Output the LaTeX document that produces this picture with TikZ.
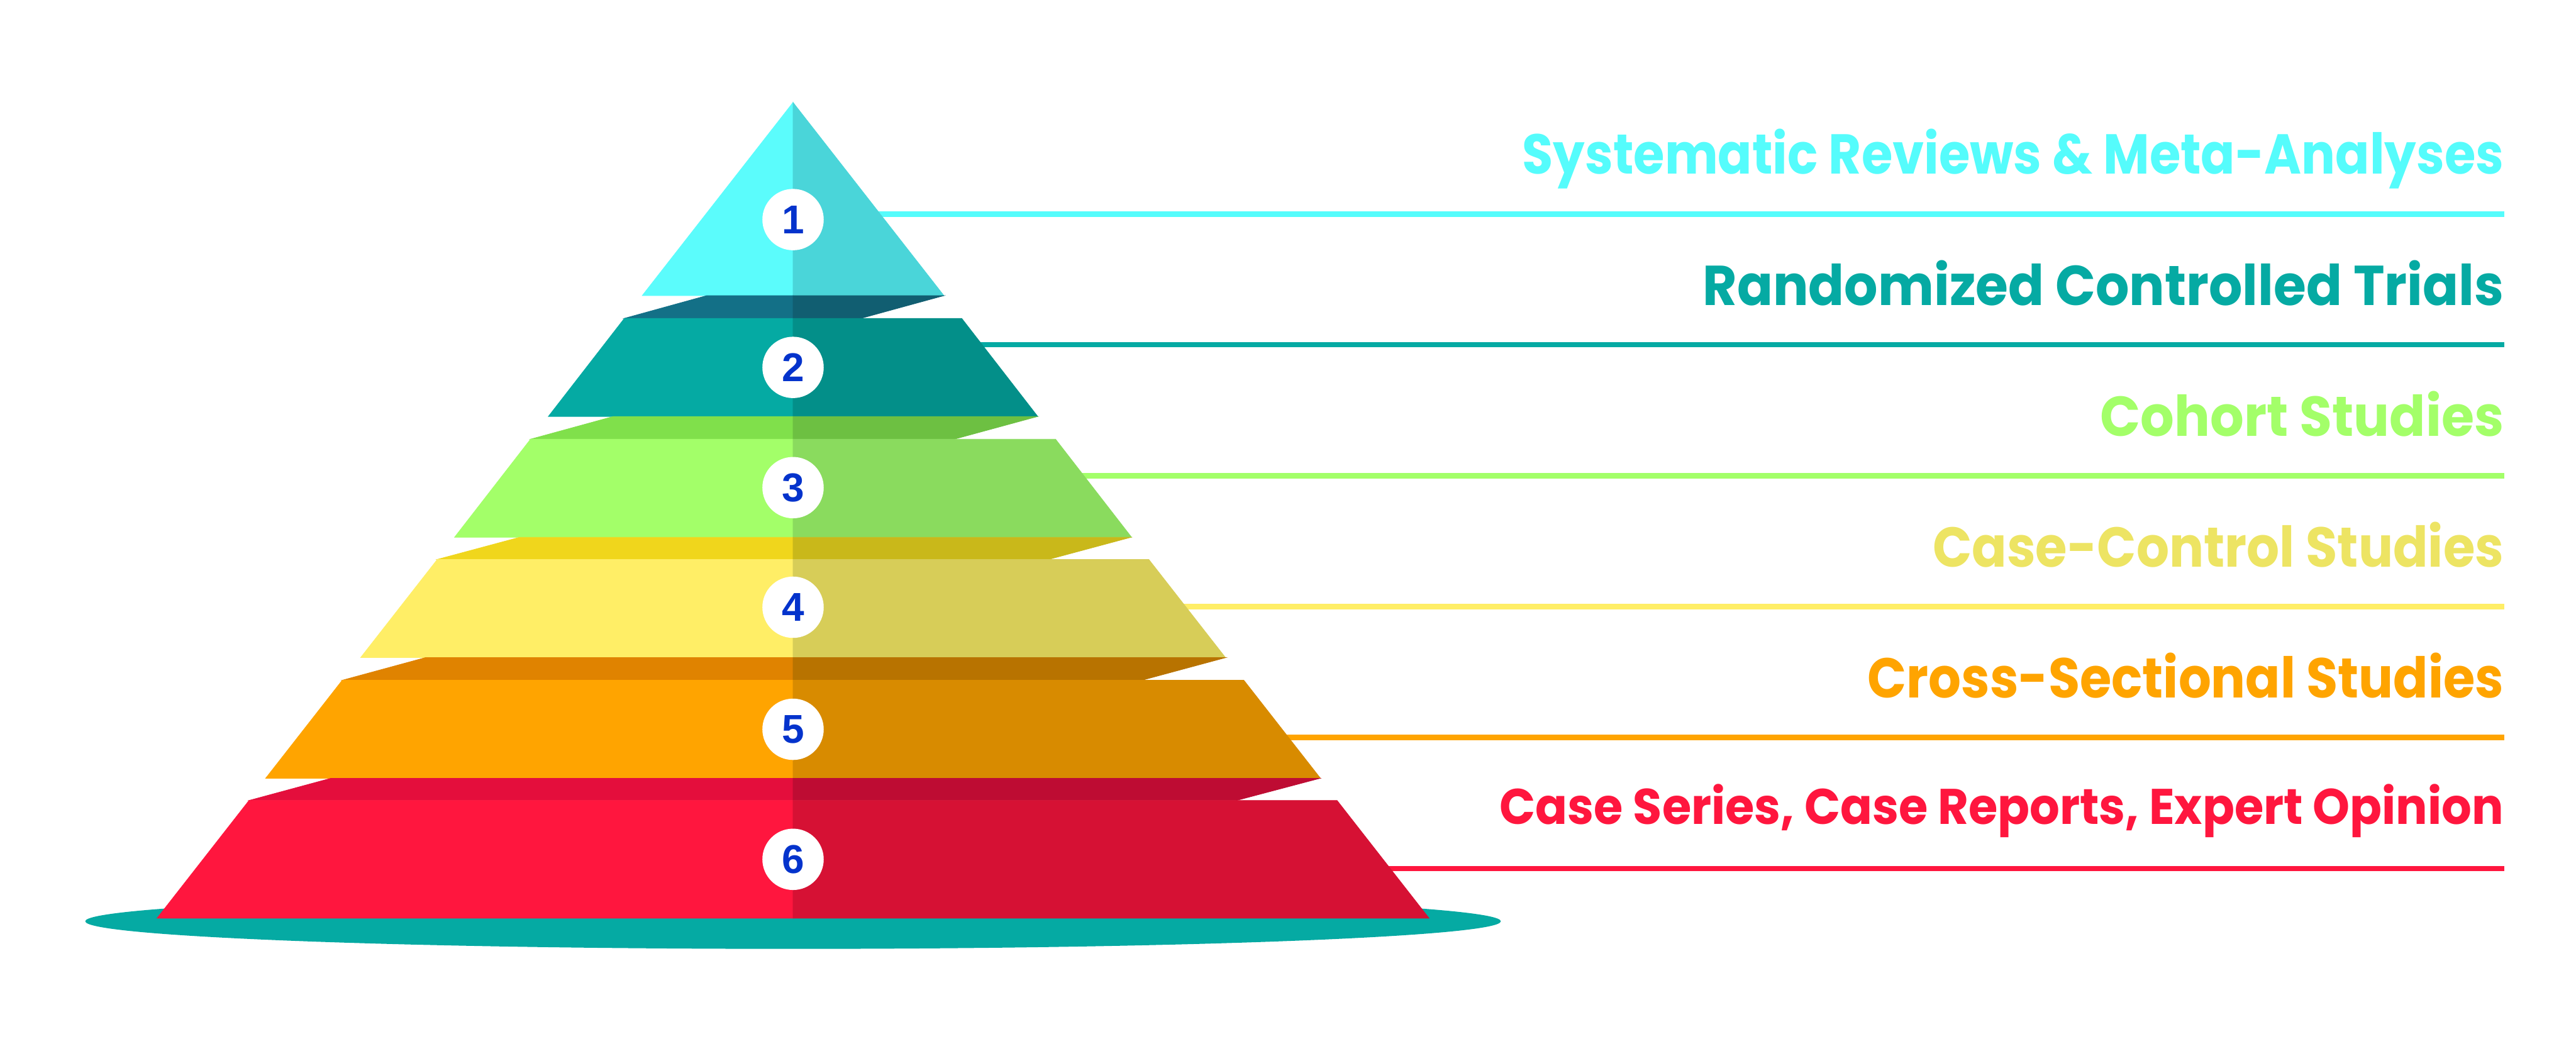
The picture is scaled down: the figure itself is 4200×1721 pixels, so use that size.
\documentclass[tikz,border=0pt]{standalone}
\usepackage{fontspec}
\usepackage{graphicx}
\setmainfont{Poppins}
\newfontfamily\numfont{Liberation Sans}
\definecolor{tAl}{HTML}{5BFCFC}\definecolor{tAr}{HTML}{4AD5D9}
\definecolor{bAl}{HTML}{137087}\definecolor{bAr}{HTML}{115E71}
\definecolor{tBl}{HTML}{05AAA3}\definecolor{tBr}{HTML}{038F89}
\definecolor{bBl}{HTML}{80E04B}\definecolor{bBr}{HTML}{6DC042}
\definecolor{tCl}{HTML}{A3FF69}\definecolor{tCr}{HTML}{8ADB5E}
\definecolor{bCl}{HTML}{F0D61C}\definecolor{bCr}{HTML}{C9B81A}
\definecolor{tDl}{HTML}{FFEE66}\definecolor{tDr}{HTML}{D7CD58}
\definecolor{bDl}{HTML}{E08300}\definecolor{bDr}{HTML}{B87300}
\definecolor{tEl}{HTML}{FFA400}\definecolor{tEr}{HTML}{D88B00}
\definecolor{bEl}{HTML}{E40E3C}\definecolor{bEr}{HTML}{BE0C33}
\definecolor{tFl}{HTML}{FF163E}\definecolor{tFr}{HTML}{D61134}
\definecolor{numblue}{HTML}{0433CC}
\definecolor{txA}{HTML}{55FCFC}\definecolor{txB}{HTML}{05AAA3}
\definecolor{txC}{HTML}{A3FF69}\definecolor{txD}{HTML}{EDE463}
\definecolor{txE}{HTML}{FFA400}\definecolor{txF}{HTML}{FF163E}
\definecolor{lnD}{HTML}{FFEE66}
\newcommand\pyrtier[6]{%
  \fill[#5,draw=#5,line width=0.2pt] ({1293-#3},#1) -- (1293,#1) -- (1293,#2) -- ({1293-#4},#2) -- cycle;
  \fill[#6,draw=#6,line width=0.2pt] (1293,#1) -- ({1293+#3},#1) -- ({1293+#4},#2) -- (1293,#2) -- cycle;}
\newcommand\pyrband[8]{%
  \fill[#7,draw=#7,line width=0.2pt] (#3,#1) -- (1293,#1) -- (1293,#2) -- (#5,#2) -- cycle;
  \fill[#8,draw=#8,line width=0.2pt] (1293,#1) -- (#4,#1) -- (#6,#2) -- (1293,#2) -- cycle;}
\newcommand\fitw[2]{\resizebox{#1}{\height}{#2}}
\begin{document}
\begin{tikzpicture}[x=0.25pt,y=-0.25pt,
  rule/.style={line width=2.25pt},
  numdot/.style={circle,fill=white,minimum size=25pt,inner sep=0pt,text=numblue,
    font=\numfont\bfseries\fontsize{16.4pt}{18pt}\selectfont},
  lvl/.style={anchor=base east,inner sep=0pt,font=\bfseries\fontsize{22.9pt}{26pt}\selectfont},
  lvlsmall/.style={anchor=base east,inner sep=0pt,font=\bfseries\fontsize{20.4pt}{24pt}\selectfont}]
\useasboundingbox (0,0) rectangle (4200,1721);
% base ellipse
\fill[tBl] (1293,1502) ellipse [x radius=1154, y radius=45];
% rules (behind pyramid)
\coordinate (s1) at (1293,349);  \coordinate (e1) at (4083,349);
\coordinate (s2) at (1293,562);  \coordinate (e2) at (4083,562);
\coordinate (s3) at (1293,776);  \coordinate (e3) at (4083,776);
\coordinate (s4) at (1293,989);  \coordinate (e4) at (4083,989);
\coordinate (s5) at (1293,1202); \coordinate (e5) at (4083,1202);
\coordinate (s6) at (1293,1416); \coordinate (e6) at (4083,1416);
\draw[rule,txA] (s1) -- (e1);
\draw[rule,txB] (s2) -- (e2);
\draw[rule,txC] (s3) -- (e3);
\draw[rule,lnD] (s4) -- (e4);
\draw[rule,txE] (s5) -- (e5);
\draw[rule,txF] (s6) -- (e6);
% tier 1
\fill[tAl,draw=tAl,line width=0.2pt] (1293,167) -- (1047,482) -- (1293,482) -- cycle;
\fill[tAr,draw=tAr,line width=0.2pt] (1293,167) -- (1539,482) -- (1293,482) -- cycle;
\pyrband{482}{519}{1152}{1539}{1018}{1404}{bAl}{bAr}
\pyrtier{519}{679}{275}{399}{tBl}{tBr}
\pyrband{679}{716}{1000}{1692}{865}{1556}{bBl}{bBr}
\pyrtier{716}{876}{428}{552}{tCl}{tCr}
\pyrband{876}{912}{847}{1844}{713}{1710}{bCl}{bCr}
\pyrtier{912}{1072}{580}{705}{tDl}{tDr}
\pyrband{1072}{1109}{694}{1999}{558}{1862}{bDl}{bDr}
\pyrtier{1109}{1269}{735}{860}{tEl}{tEr}
\pyrband{1269}{1305}{539}{2152}{406}{2016}{bEl}{bEr}
\pyrtier{1305}{1497}{887}{1037}{tFl}{tFr}
% numbers
\node[numdot] (n1) at (1293,358) {1};
\node[numdot] (n2) at (1293,599) {2};
\node[numdot] (n3) at (1293,795) {3};
\node[numdot] (n4) at (1293,990) {4};
\node[numdot] (n5) at (1293,1189) {5};
\node[numdot] (n6) at (1293,1401) {6};
% labels
\node[lvl,text=txA] (L1) at (4083,284) {\fitw{400pt}{Systematic Reviews \& Meta-Analyses}};
\node[lvl,text=txB] (L2) at (4083,498) {\fitw{326.5pt}{Randomized Controlled Trials}};
\node[lvl,text=txC] (L3) at (4083,711) {\fitw{164.5pt}{Cohort Studies}};
\node[lvl,text=txD] (L4) at (4083,924) {\fitw{232.75pt}{Case-Control Studies}};
\node[lvl,text=txE] (L5) at (4083,1138) {\fitw{259.25pt}{Cross-Sectional Studies}};
\node[lvlsmall,text=txF] (L6) at (4083,1344) {\fitw{409.25pt}{Case Series, Case Reports, Expert Opinion}};
\end{tikzpicture}
\end{document}
